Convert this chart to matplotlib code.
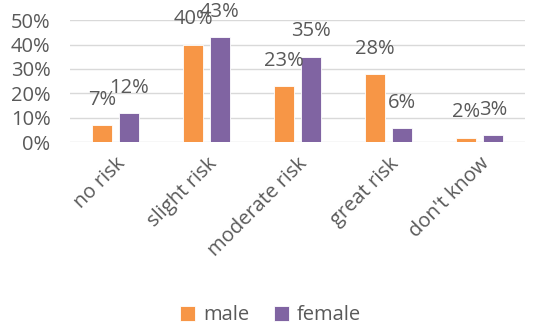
import matplotlib
matplotlib.use("Agg")
import matplotlib.pyplot as plt
import numpy as np
from matplotlib.ticker import PercentFormatter

categories = ["no risk", "slight risk", "moderate risk", "great risk", "don't know"]
male = [7, 40, 23, 28, 2]
female = [12, 43, 35, 6, 3]
series_names = ["male", "female"]
colors = ["#F79646", "#8064A2"]

plt.rcParams['font.family'] = ['Open Sans', 'DejaVu Sans']
txt = "#595959"
fs = 14.5

fig = plt.figure(figsize=(5.41, 3.27), dpi=100)
ax = fig.add_axes([70/541, 1-142.5/327, (525-70)/541, (142.5-20)/327])

x = np.arange(len(categories))
w = 0.22
off = 0.145
for vals, c, name, d in [(male, colors[0], series_names[0], -off), (female, colors[1], series_names[1], off)]:
    bars = ax.bar(x + d, vals, width=w, color=c, label=name, edgecolor="white", linewidth=0.6, zorder=3)
    for b, v in zip(bars, vals):
        ax.annotate(f"{v}%", (b.get_x() + b.get_width()/2, v), xytext=(0, 11),
                    textcoords="offset points", ha="center", va="bottom",
                    fontsize=fs, color=txt, zorder=4, annotation_clip=False)

ax.set_xlim(-0.5, len(categories) - 0.5)
ax.set_ylim(0, 50)
ax.set_yticks(range(0, 51, 10))
ax.yaxis.set_major_formatter(PercentFormatter(decimals=0))
ax.grid(axis="y", color="#D9D9D9", linewidth=1, zorder=0)
for s in ax.spines.values():
    s.set_visible(False)
ax.tick_params(axis="both", length=0, colors=txt, labelsize=fs)
ax.tick_params(axis="y", pad=14)
ax.set_xticks(x)
ax.set_xticklabels(categories, rotation=45, ha="right", rotation_mode="anchor")
for lab in ax.get_xticklabels():
    lab.set_transform(lab.get_transform() + matplotlib.transforms.ScaledTranslation(10/100, 0, fig.dpi_scale_trans))
ax.tick_params(axis="x", pad=8)

fig.legend(loc="lower center", bbox_to_anchor=(0.5, -0.05), ncol=2, frameon=False,
           fontsize=fs, labelcolor=txt, handlelength=0.75, handleheight=0.75,
           handletextpad=0.4, columnspacing=1.2)

fig.savefig("out.png", dpi=100)
